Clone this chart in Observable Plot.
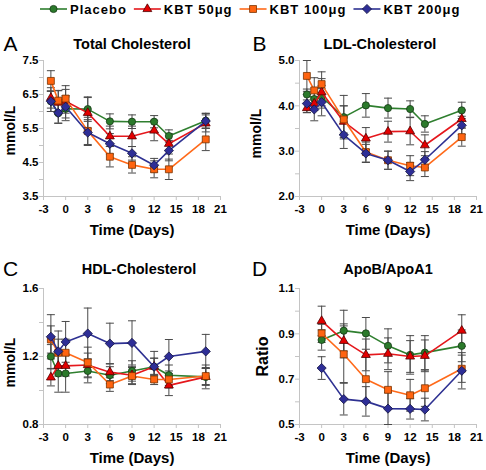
<!DOCTYPE html>
<html>
<head>
<meta charset="utf-8">
<script src="https://cdn.jsdelivr.net/npm/d3@7"></script>
<script src="https://cdn.jsdelivr.net/npm/@observablehq/plot@0.6"></script>
<style>
  html, body { margin: 0; padding: 0; background: #fff; }
  #root { position: relative; width: 486px; height: 470px; overflow: hidden; background: #fff;
          font-family: "Liberation Sans", Arial, sans-serif; }
  .panel { position: absolute; }
  #legend { position: absolute; left: 0px; top: 0px; display: block; }
</style>
</head>
<body>
<div id="root">
  <svg id="legend" width="486" height="18"></svg>
</div>
<script>
// ---------- data ----------
const seriesNames = ["Placebo", "KBT 50μg", "KBT 100μg", "KBT 200μg"];
const days = [-2, -1, 0, 3, 6, 9, 12, 14, 19];
const ratioDays = [0, 3, 6, 9, 12, 14, 19];
const xTicks = [-3, 0, 3, 6, 9, 12, 15, 18, 21];

// A: Total cholesterol (mmol/L)
const tcPlacebo = [6.30, 5.95, 6.08, 6.07, 5.71, 5.70, 5.70, 5.28, 5.73];
const tcKbt50   = [6.40, 6.26, 6.30, 5.96, 5.27, 5.27, 5.44, 5.05, 5.65];
const tcKbt100  = [6.90, 6.32, 6.38, 5.43, 4.67, 4.43, 4.30, 4.30, 5.18];
const tcKbt200  = [6.30, 5.96, 6.14, 5.38, 5.05, 4.77, 4.42, 4.85, 5.72];
const tcErrPlacebo = [0.30, 0.30, 0.35, 0.36, 0.22, 0.20, 0.18, 0.18, 0.22];
const tcErrKbt50   = [0.30, 0.35, 0.35, 0.45, 0.30, 0.30, 0.30, 0.30, 0.25];
const tcErrKbt100  = [0.30, 0.30, 0.38, 0.40, 0.30, 0.24, 0.25, 0.30, 0.33];
const tcErrKbt200  = [0.30, 0.30, 0.33, 0.38, 0.30, 0.20, 0.20, 0.30, 0.22];
const tcTicks = [3.5, 4.0, 4.5, 5.0, 5.5, 6.0, 6.5, 7.0, 7.5];
const tcLabels = [3.5, 4.5, 5.5, 6.5, 7.5];

// B: LDL cholesterol (mmol/L)
const ldlPlacebo = [4.25, 4.15, 4.20, 3.75, 4.01, 3.95, 3.93, 3.60, 3.90];
const ldlKbt50   = [3.95, 4.05, 4.30, 3.65, 3.28, 3.43, 3.44, 3.13, 3.71];
const ldlKbt100  = [4.66, 4.34, 4.48, 3.70, 2.98, 2.80, 2.68, 2.64, 3.31];
const ldlKbt200  = [4.05, 3.92, 4.08, 3.36, 2.95, 2.80, 2.55, 2.81, 3.57];
const ldlErrPlacebo = [0.12, 0.15, 0.25, 0.48, 0.26, 0.22, 0.18, 0.18, 0.18];
const ldlErrKbt50   = [0.10, 0.15, 0.30, 0.35, 0.24, 0.23, 0.30, 0.23, 0.20];
const ldlErrKbt100  = [0.34, 0.28, 0.27, 0.30, 0.22, 0.20, 0.22, 0.20, 0.20];
const ldlErrKbt200  = [0.20, 0.25, 0.30, 0.30, 0.20, 0.20, 0.20, 0.18, 0.20];
const ldlTicks = [2.0, 2.5, 3.0, 3.5, 4.0, 4.5, 5.0];
const ldlLabels = [2.0, 3.0, 4.0, 5.0];

// C: HDL cholesterol (mmol/L)
const hdlPlacebo = [1.20, 1.10, 1.10, 1.115, 1.09, 1.115, 1.14, 1.09, 1.08];
const hdlKbt50   = [1.077, 1.145, 1.145, 1.15, 1.108, 1.09, 1.14, 1.03, 1.08];
const hdlKbt100  = [1.30, 1.222, 1.222, 1.165, 1.035, 1.085, 1.065, 1.065, 1.085];
const hdlKbt200  = [1.316, 1.23, 1.286, 1.335, 1.276, 1.28, 1.14, 1.20, 1.23];
const hdlErrPlacebo = [0.07, 0.11, 0.11, 0.07, 0.05, 0.06, 0.05, 0.06, 0.07];
const hdlErrKbt50   = [0.05, 0.06, 0.06, 0.07, 0.05, 0.05, 0.05, 0.06, 0.05];
const hdlErrKbt100  = [0.08, 0.08, 0.08, 0.09, 0.04, 0.05, 0.03, 0.05, 0.05];
const hdlErrKbt200  = [0.13, 0.12, 0.12, 0.15, 0.12, 0.13, 0.09, 0.10, 0.10];
const hdlTicks = [0.8, 1.0, 1.2, 1.4, 1.6];
const hdlLabels = [0.8, 1.2, 1.6];

// D: ApoB/ApoA1 ratio
const apoPlacebo = [0.873, 0.914, 0.902, 0.847, 0.807, 0.817, 0.847];
const apoKbt50   = [0.957, 0.869, 0.807, 0.812, 0.800, 0.803, 0.914];
const apoKbt100  = [0.902, 0.810, 0.700, 0.653, 0.629, 0.660, 0.746];
const apoKbt200  = [0.749, 0.612, 0.602, 0.570, 0.569, 0.566, 0.737];
const apoErrPlacebo = [0.045, 0.09, 0.07, 0.075, 0.085, 0.075, 0.07];
const apoErrKbt50   = [0.065, 0.075, 0.07, 0.07, 0.07, 0.07, 0.07];
const apoErrKbt100  = [0.04, 0.125, 0.10, 0.08, 0.07, 0.08, 0.06];
const apoErrKbt200  = [0.05, 0.07, 0.065, 0.07, 0.045, 0.05, 0.08];
const apoTicks = [0.5, 0.6, 0.7, 0.8, 0.9, 1.0, 1.1];
const apoLabels = [0.5, 0.7, 0.9, 1.1];

// ---------- styling ----------
const diamondSymbol = {
  draw(ctx, size) {
    const h = Math.sqrt(size / Math.PI) * 1.15;
    ctx.moveTo(0, -h); ctx.lineTo(h, 0); ctx.lineTo(0, h); ctx.lineTo(-h, 0); ctx.closePath();
  }
};
const capSymbol = {
  draw(ctx, size) { ctx.moveTo(-4, 0); ctx.lineTo(4, 0); }
};
const styles = [
  {line: "#2F7F2F", fill: "#2B7A2B", stroke: "#163816", symbol: "circle",   r: 3.6},
  {line: "#E5171C", fill: "#E30000", stroke: "#500000", symbol: "triangle", r: 3.3},
  {line: "#FF6A1A", fill: "#FF6410", stroke: "#7A3300", symbol: "square",   r: 3.9},
  {line: "#2E3192", fill: "#2E2E96", stroke: "#141440", symbol: diamondSymbol, r: 4.0}
];
const axisGray = "#C4C4C4";
const barColor = "#4A4A4A";
const font = "'Liberation Sans', Arial, sans-serif";

function makePanel(cfg) {
  const rows = [];
  cfg.values.forEach((vals, i) => vals.forEach((v, j) =>
    rows.push({k: i, series: seriesNames[i], day: cfg.days[j], v, e: cfg.errors[i][j]})));
  const marks = [
    Plot.ruleX([-3], {y1: cfg.yDomain[0], y2: cfg.yDomain[1], stroke: axisGray}),
    Plot.ruleY([cfg.yDomain[0]], {x1: -3, x2: 21, stroke: axisGray}),
    Plot.axisX({ticks: xTicks, tickSize: 4, tickPadding: 4, tickFormat: d => String(d),
      stroke: axisGray, fill: "black", fontWeight: "bold", fontSize: 11.5, label: null}),
    Plot.axisY({ticks: cfg.yTicks, tickSize: 4, tickPadding: 1,
      tickFormat: d => cfg.yLabels.some(l => Math.abs(l - d) < 1e-9) ? d.toFixed(1) : "",
      stroke: axisGray, fill: "black", fontWeight: "bold", fontSize: 11.5, label: null}),
    Plot.ruleX(rows, {x: "day", y1: d => d.v - d.e, y2: d => d.v + d.e, stroke: barColor, strokeWidth: 1}),
    Plot.dot(rows, {x: "day", y: d => d.v + d.e, symbol: capSymbol, r: 3, stroke: barColor, fill: "none", strokeWidth: 1}),
    Plot.dot(rows, {x: "day", y: d => d.v - d.e, symbol: capSymbol, r: 3, stroke: barColor, fill: "none", strokeWidth: 1})
  ];
  styles.forEach((s, i) => {
    const sub = rows.filter(d => d.k === i);
    marks.push(Plot.line(sub, {x: "day", y: "v", stroke: s.line, strokeWidth: 1.6}));
    marks.push(Plot.dot(sub, {x: "day", y: "v", symbol: s.symbol, r: s.r, fill: s.fill, stroke: s.stroke, strokeWidth: 0.8}));
  });
  marks.push(
    Plot.text([cfg.title], {frameAnchor: "top", dx: cfg.titleDx, dy: cfg.titleDy, lineAnchor: "middle",
      fontSize: 14.5, fontWeight: "bold", fill: "black", letterSpacing: "0.5px"}),
    Plot.text([cfg.letter], {frameAnchor: "top-left", dx: cfg.letterDx, dy: cfg.titleDy, lineAnchor: "middle",
      textAnchor: "middle", fontSize: 21, fontWeight: "normal", fill: "black"}),
    Plot.text(["Time (Days)"], {frameAnchor: "bottom", dy: 34, lineAnchor: "middle",
      fontSize: 15, fontWeight: "bold", fill: "black"}),
    Plot.text([cfg.ylabel], {frameAnchor: "left", dx: cfg.ylabelDx, dy: cfg.ylabelDy, rotate: -90, lineAnchor: "middle",
      textAnchor: "middle", fontSize: cfg.ylabelSize, fontWeight: "bold", fill: "black"})
  );
  const chart = Plot.plot({
    width: cfg.width, height: 220,
    marginLeft: 43, marginRight: cfg.width - 43 - 177, marginTop: 35, marginBottom: 49,
    x: {domain: [-3, 21]},
    y: {domain: cfg.yDomain},
    style: {fontFamily: font, fontSize: "11px", fontWeight: "bold", background: "transparent", overflow: "visible"},
    marks
  });
  const div = document.createElement("div");
  div.className = "panel";
  div.style.left = cfg.left + "px";
  div.style.top = cfg.top + "px";
  div.appendChild(chart);
  document.getElementById("root").appendChild(div);
}

makePanel({
  left: 0, top: 25, width: 232, days,
  values: [tcPlacebo, tcKbt50, tcKbt100, tcKbt200],
  errors: [tcErrPlacebo, tcErrKbt50, tcErrKbt100, tcErrKbt200],
  yDomain: [3.5, 7.5], yTicks: tcTicks, yLabels: tcLabels,
  title: "Total Cholesterol", titleDx: 0, titleDy: -16, letter: "A", letterDx: -33,
  ylabel: "mmol/L", ylabelDx: -33, ylabelDy: 2, ylabelSize: 14
});
makePanel({
  left: 256, top: 25, width: 230, days,
  values: [ldlPlacebo, ldlKbt50, ldlKbt100, ldlKbt200],
  errors: [ldlErrPlacebo, ldlErrKbt50, ldlErrKbt100, ldlErrKbt200],
  yDomain: [2.0, 5.0], yTicks: ldlTicks, yLabels: ldlLabels,
  title: "LDL-Cholesterol", titleDx: -8, titleDy: -16, letter: "B", letterDx: -40,
  ylabel: "mmol/L", ylabelDx: -43, ylabelDy: 5, ylabelSize: 14
});
makePanel({
  left: 0, top: 253, width: 232, days,
  values: [hdlPlacebo, hdlKbt50, hdlKbt100, hdlKbt200],
  errors: [hdlErrPlacebo, hdlErrKbt50, hdlErrKbt100, hdlErrKbt200],
  yDomain: [0.8, 1.6], yTicks: hdlTicks, yLabels: hdlLabels,
  title: "HDL-Cholesterol", titleDx: 7, titleDy: -19, letter: "C", letterDx: -33,
  ylabel: "mmol/L", ylabelDx: -33, ylabelDy: 6, ylabelSize: 14
});
makePanel({
  left: 256, top: 253, width: 230, days: ratioDays,
  values: [apoPlacebo, apoKbt50, apoKbt100, apoKbt200],
  errors: [apoErrPlacebo, apoErrKbt50, apoErrKbt100, apoErrKbt200],
  yDomain: [0.5, 1.1], yTicks: apoTicks, yLabels: apoLabels,
  title: "ApoB/ApoA1", titleDx: 0, titleDy: -19, letter: "D", letterDx: -40,
  ylabel: "Ratio", ylabelDx: -37, ylabelDy: 0, ylabelSize: 16
});

// ---------- legend (sequential layout from measured text) ----------
const legend = d3.select("#legend");
const d3Symbols = {circle: d3.symbolCircle, triangle: d3.symbolTriangle, square: d3.symbolSquare};
let cursor = 40;
seriesNames.forEach((name, i) => {
  const s = styles[i];
  const g = legend.append("g").attr("transform", `translate(${cursor},9)`);
  g.append("line").attr("x1", 0).attr("x2", 27).attr("y1", 0).attr("y2", 0)
    .attr("stroke", s.line).attr("stroke-width", 1.6);
  const sym = typeof s.symbol === "string" ? d3Symbols[s.symbol] : s.symbol;
  g.append("path").attr("transform", "translate(13.5,0)")
    .attr("d", d3.symbol(sym, Math.PI * s.r * s.r)())
    .attr("fill", s.fill).attr("stroke", s.stroke).attr("stroke-width", 0.8);
  const t = g.append("text").attr("x", 30).attr("y", 0).attr("dy", "0.35em")
    .attr("font-family", font).attr("font-weight", "bold").attr("font-size", 13)
    .attr("letter-spacing", "1px").attr("fill", "black").text(name);
  const w = t.node().getComputedTextLength();
  cursor += 30 + w + 7;
});
</script>
</body>
</html>
